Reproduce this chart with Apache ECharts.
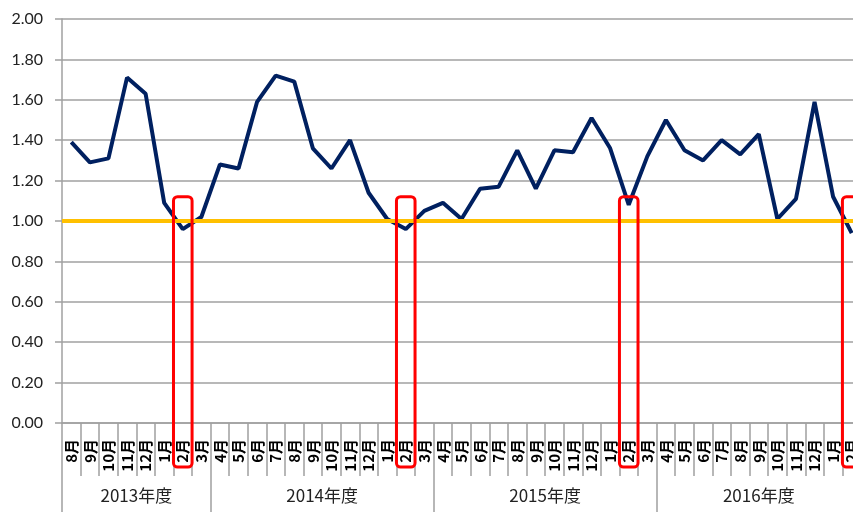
<!DOCTYPE html>
<html>
<head>
<meta charset="utf-8">
<script src="https://cdn.jsdelivr.net/npm/echarts@6/dist/echarts.min.js"></script>
<style>
html,body{margin:0;padding:0;background:#fff;overflow:hidden;width:853px;height:512px;}
#chart{width:861px;height:512px;}
</style>
</head>
<body>
<div id="chart"></div>
<script>
// ---- data ----
const fiscalYears = ['2013年度', '2014年度', '2015年度', '2016年度'];
const monthsFY2013 = ['8月','9月','10月','11月','12月','1月','2月','3月'];
const monthsFY2014 = ['4月','5月','6月','7月','8月','9月','10月','11月','12月','1月','2月','3月'];
const monthsFY2015 = ['4月','5月','6月','7月','8月','9月','10月','11月','12月','1月','2月','3月'];
const monthsFY2016 = ['4月','5月','6月','7月','8月','9月','10月','11月','12月','1月','2月'];
const valuesFY2013 = [1.39, 1.29, 1.31, 1.71, 1.63, 1.09, 0.96, 1.02];
const valuesFY2014 = [1.28, 1.26, 1.59, 1.72, 1.69, 1.36, 1.26, 1.40, 1.14, 1.01, 0.96, 1.05];
const valuesFY2015 = [1.09, 1.01, 1.16, 1.17, 1.35, 1.16, 1.35, 1.34, 1.51, 1.36, 1.08, 1.32];
const valuesFY2016 = [1.50, 1.35, 1.30, 1.40, 1.33, 1.43, 1.01, 1.11, 1.59, 1.12, 0.94];
const referenceLevel = 1.00;
const highlightMonth = '2月';
const highlightTop = 1.12;

// ---- build ----
const monthGroups = [monthsFY2013, monthsFY2014, monthsFY2015, monthsFY2016];
const categories = [].concat(...monthGroups);
const values = [].concat(valuesFY2013, valuesFY2014, valuesFY2015, valuesFY2016);
const boundaries = [0];
const centers = [];
monthGroups.forEach(g => {
  const start = boundaries[boundaries.length - 1];
  centers.push(start + g.length / 2);
  boundaries.push(start + g.length);
});
const total = categories.length;
const yearAt = {};
centers.forEach((c, i) => { yearAt[c.toFixed(3)] = fiscalYears[i]; });

const chart = echarts.init(document.getElementById('chart'), null, {renderer: 'canvas'});
const gridLine = '#a0a0a0';
const latin = 'Lato, "Noto Sans CJK JP", sans-serif';

chart.setOption({
  animation: false,
  backgroundColor: '#fff',
  grid: {left: 62, top: 19, height: 404, right: 0, containLabel: false},
  xAxis: [{
    type: 'category',
    data: categories,
    boundaryGap: true,
    axisLine: {show: true, lineStyle: {color: gridLine, width: 1.5}},
    axisTick: {show: true, interval: 0, length: 53, lineStyle: {color: gridLine, width: 1.5}},
    axisLabel: {interval: 0, rotate: 90, margin: 16, fontSize: 15, fontWeight: 'bold', color: '#000',
      fontFamily: '"Noto Sans CJK JP", sans-serif'},
    splitLine: {show: false}
  }, {
    type: 'value',
    min: 0, max: total,
    position: 'bottom',
    axisLine: {show: false},
    axisTick: {show: true, customValues: boundaries.slice(0, -1), length: 92,
      lineStyle: {color: gridLine, width: 1.5}},
    axisLabel: {show: true, customValues: centers, margin: 64, fontSize: 17, color: '#222',
      fontFamily: '"Noto Sans CJK JP", sans-serif',
      formatter: v => yearAt[Number(v).toFixed(3)] || ''},
    splitLine: {show: false}
  }],
  yAxis: {
    type: 'value',
    min: 0, max: 2, interval: 0.2,
    axisLine: {show: true, lineStyle: {color: gridLine, width: 1.5}},
    axisTick: {show: true, length: 7, lineStyle: {color: gridLine, width: 1.5}},
    axisLabel: {fontSize: 16, color: '#222', margin: 19, fontFamily: latin,
      formatter: v => v.toFixed(2)},
    splitLine: {show: true, lineStyle: {color: gridLine, width: 1.5}}
  },
  series: [{
    type: 'line',
    data: values,
    showSymbol: false,
    symbol: 'none',
    lineStyle: {color: '#002060', width: 4},
    z: 3
  }, {
    type: 'line',
    data: [],
    z: 4,
    markLine: {
      silent: true,
      symbol: ['none', 'none'],
      label: {show: false},
      lineStyle: {color: '#FFC000', width: 4, type: 'solid'},
      data: [{yAxis: referenceLevel}]
    }
  }]
});

// red highlight frames around each 2月 column
function drawFrames() {
  const cw = chart.convertToPixel({xAxisIndex: 0}, 1) - chart.convertToPixel({xAxisIndex: 0}, 0);
  const yTop = chart.convertToPixel({yAxisIndex: 0}, highlightTop);
  const yAxisBase = chart.convertToPixel({yAxisIndex: 0}, 0);
  const yBottom = yAxisBase + 44;
  const elements = [];
  categories.forEach((m, i) => {
    if (m !== highlightMonth) return;
    const cx = chart.convertToPixel({xAxisIndex: 0}, i);
    elements.push({
      type: 'rect',
      z: 100,
      shape: {x: cx - cw / 2, y: yTop, width: cw, height: yBottom - yTop, r: 4},
      style: {fill: 'none', stroke: '#ff0000', lineWidth: 3}
    });
  });
  chart.setOption({graphic: elements});
}
drawFrames();
</script>
</body>
</html>
